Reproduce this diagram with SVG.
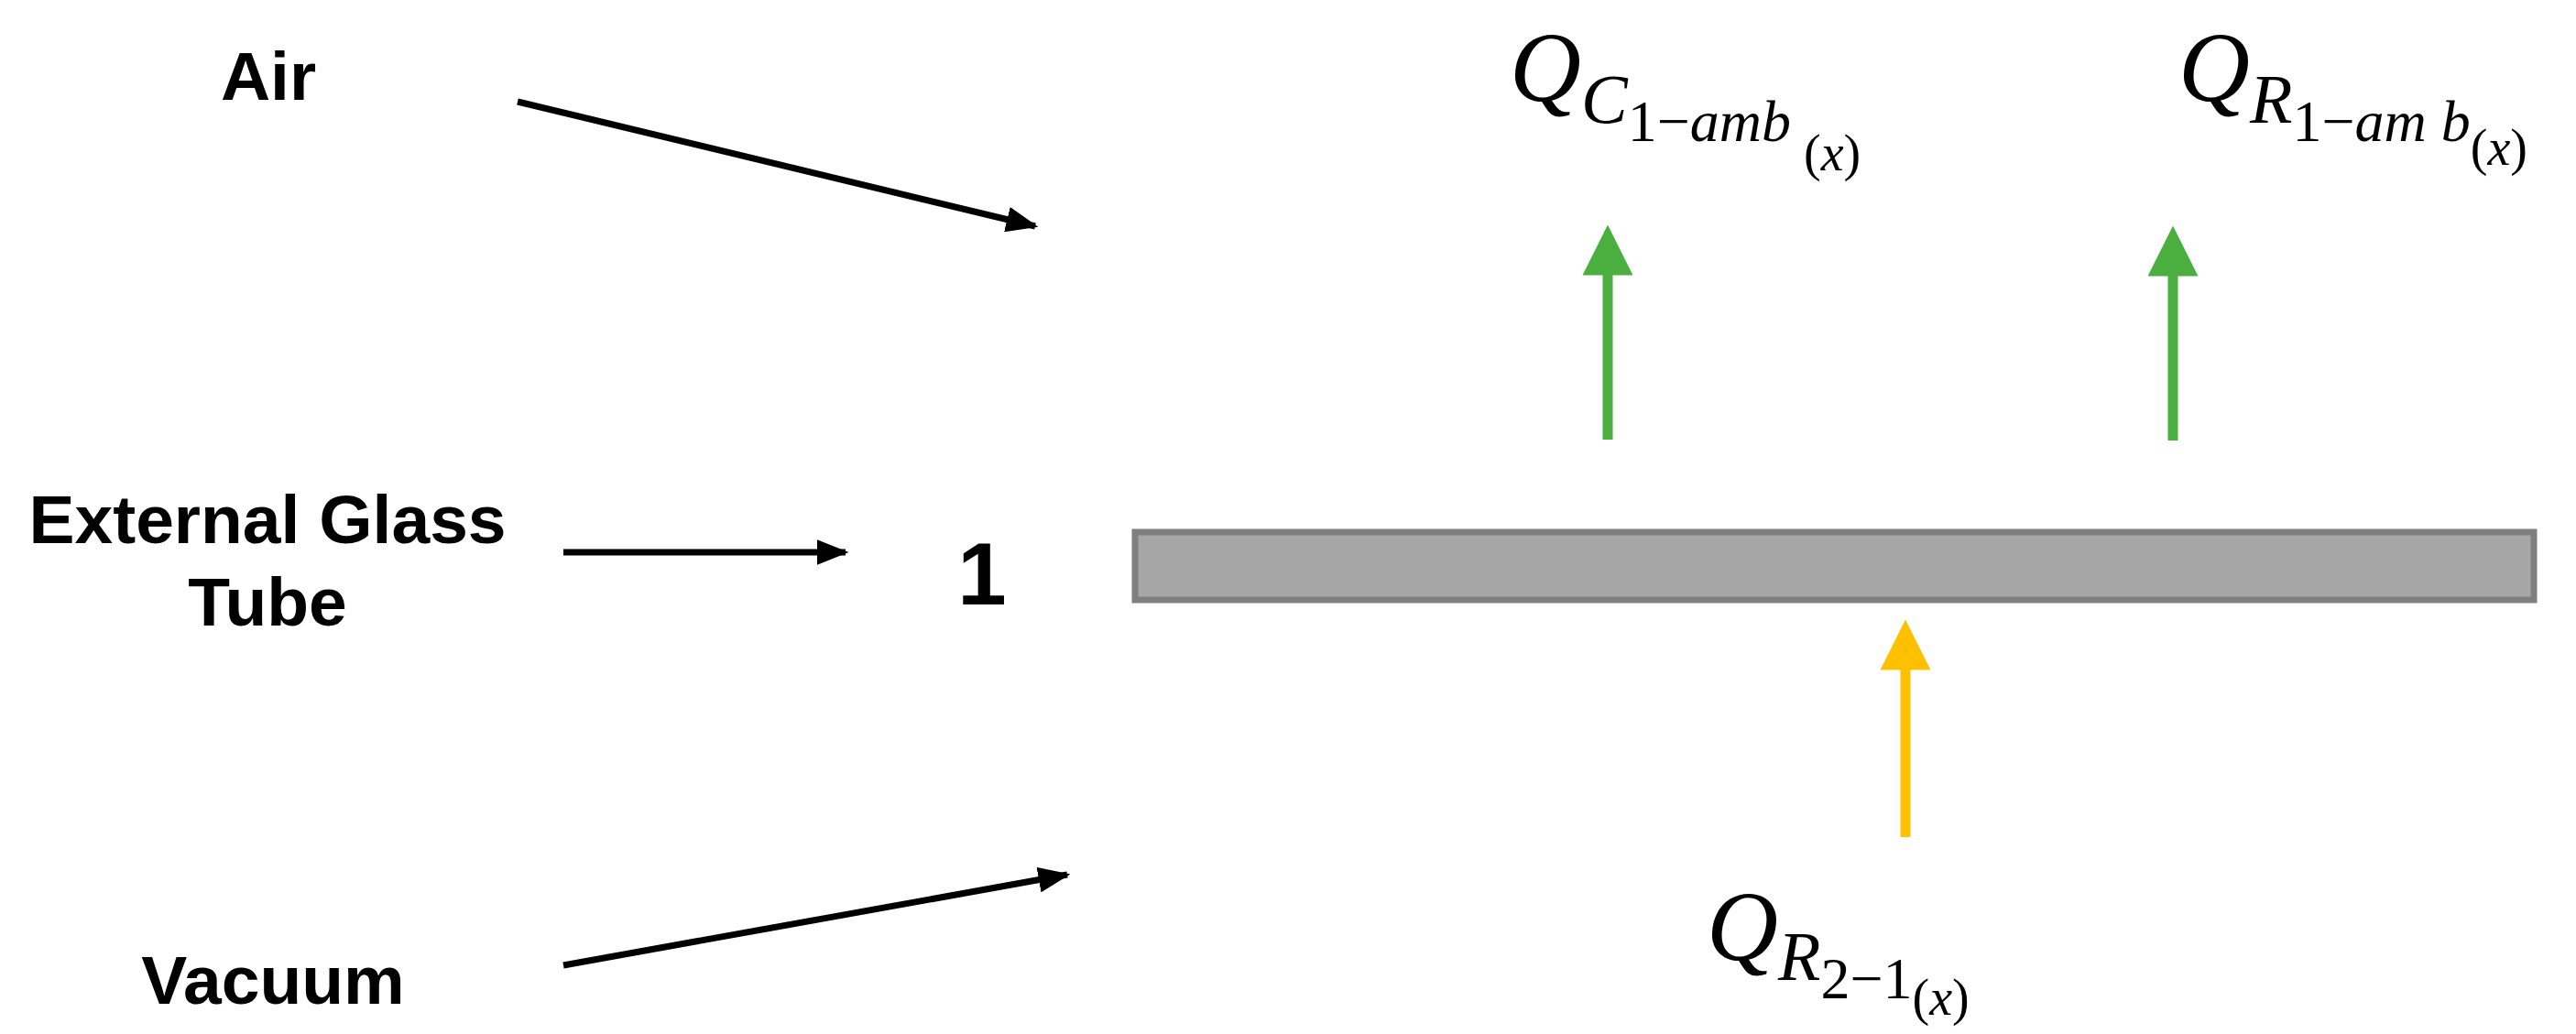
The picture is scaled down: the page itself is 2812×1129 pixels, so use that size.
<svg xmlns="http://www.w3.org/2000/svg" width="2812" height="1129" viewBox="0 0 2812 1129">
<style>
.lbl{font-family:"Liberation Sans",Arial,sans-serif;font-weight:bold;font-size:75px;fill:#000;text-anchor:middle}
.m{font-family:"Liberation Serif","DejaVu Serif",serif;font-style:italic;fill:#000}
.u{font-style:normal}
</style>
<defs>
<marker id="ab" markerWidth="5" markerHeight="4" refX="4.5" refY="2" orient="auto" markerUnits="strokeWidth"><path d="M0,0 L5,2 L0,4 z" fill="#000"/></marker>
<marker id="ag" markerWidth="5" markerHeight="5" refX="0.5" refY="2.5" orient="auto" markerUnits="strokeWidth"><path d="M0,0 L5,2.5 L0,5 z" fill="#4aaf3f"/></marker>
<marker id="ay" markerWidth="5" markerHeight="5" refX="0.5" refY="2.5" orient="auto" markerUnits="strokeWidth"><path d="M0,0 L5,2.5 L0,5 z" fill="#ffc000"/></marker>
</defs>
<rect width="2812" height="1129" fill="#fff"/>
<g id="air"><text class="lbl" x="293" y="109">Air</text></g>
<g id="glass"><text class="lbl" x="292" y="593">External Glass</text><text class="lbl" x="292" y="683">Tube</text></g>
<g id="vacuum"><text class="lbl" x="298" y="1096">Vacuum</text></g>
<g id="one"><text class="lbl" x="1072" y="660" style="font-size:96px">1</text></g>
<g id="tube"><rect x="1239" y="581" width="1527" height="74" fill="#a6a6a6" stroke="#7f7f7f" stroke-width="7"/></g>
<g id="labels">
<text class="m" x="1648" y="110" font-size="108">Q<tspan font-size="76" dy="24">C</tspan><tspan class="u" font-size="64" dy="20">1−</tspan><tspan font-size="64">amb</tspan><tspan class="u" font-size="56" dy="32"> (</tspan><tspan font-size="56">x</tspan><tspan class="u" font-size="56">)</tspan></text>
<text class="m" x="2378" y="110" font-size="108">Q<tspan font-size="76" dy="24">R</tspan><tspan class="u" font-size="64" dy="20">1−</tspan><tspan font-size="64">am b</tspan><tspan class="u" font-size="56" dy="26">(</tspan><tspan font-size="56">x</tspan><tspan class="u" font-size="56">)</tspan></text>
<text class="m" x="1863" y="1048" font-size="108">Q<tspan font-size="76" dy="22">R</tspan><tspan class="u" font-size="64" dy="20">2−1</tspan><tspan class="u" font-size="56" dy="18">(</tspan><tspan font-size="56">x</tspan><tspan class="u" font-size="56">)</tspan></text>
</g>
<g id="connectors">
<line x1="565" y1="111" x2="1130" y2="247" stroke="#000" stroke-width="7" marker-end="url(#ab)"/>
<line x1="615" y1="603" x2="923" y2="603" stroke="#000" stroke-width="7" marker-end="url(#ab)"/>
<line x1="615" y1="1054" x2="1165" y2="955" stroke="#000" stroke-width="7" marker-end="url(#ab)"/>
<line x1="1755" y1="480" x2="1755" y2="295" stroke="#4aaf3f" stroke-width="11" marker-end="url(#ag)"/>
<line x1="2372" y1="481" x2="2372" y2="296" stroke="#4aaf3f" stroke-width="11" marker-end="url(#ag)"/>
<line x1="2080" y1="914" x2="2080" y2="726" stroke="#ffc000" stroke-width="11" marker-end="url(#ay)"/>
</g>
</svg>
